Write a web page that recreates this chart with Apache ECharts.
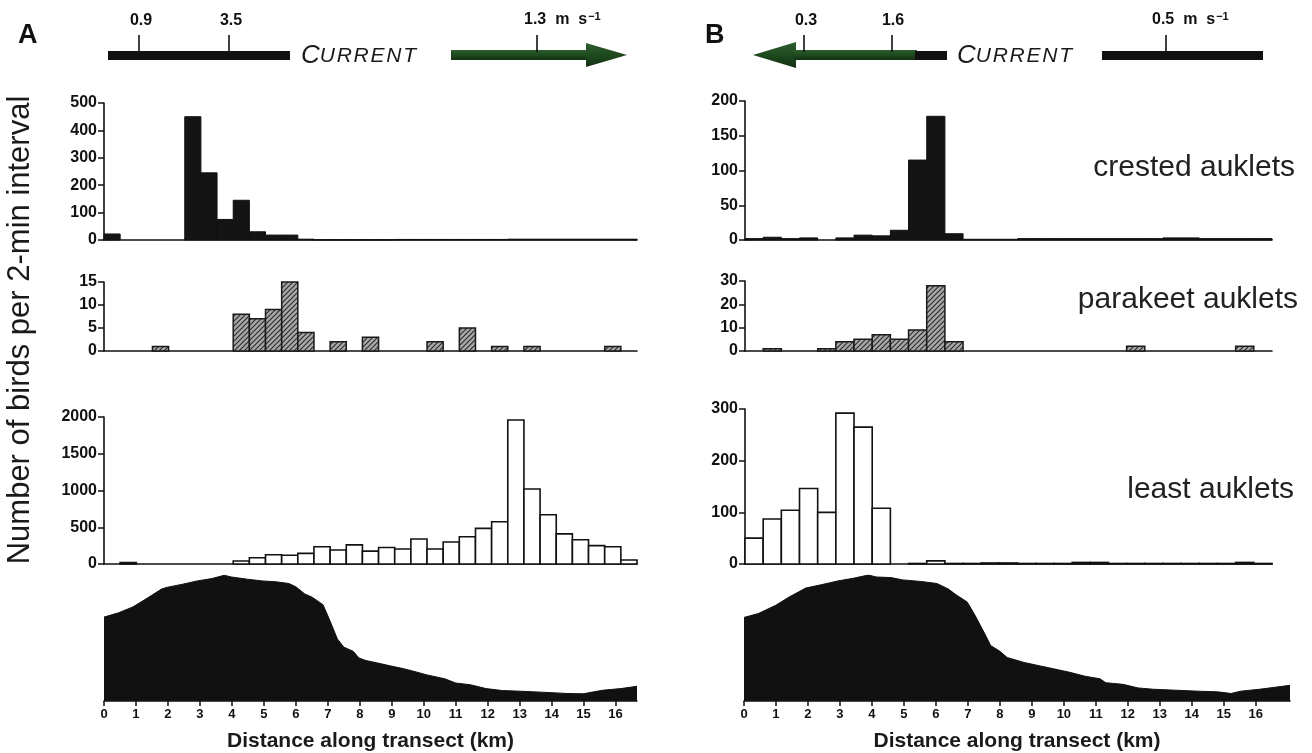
<!DOCTYPE html>
<html><head><meta charset="utf-8">
<script src="https://cdn.jsdelivr.net/npm/echarts@6/dist/echarts.min.js"></script>
<style>html,body{margin:0;padding:0;background:#fff}#c{width:1312px;height:753px}</style>
</head><body><div id="c"></div>
<script>
// ---- data ----
const binWidthA = 0.505;   // km covered by one 2-min interval, transect A
const binWidthB = 0.568;   // km covered by one 2-min interval, transect B
const crestedA = [22,0,0,0,0,450,245,75,145,30,18,18,3,1,1,1,1,1,2,2,2,2,2,2,2,3,3,3,3,3,3,3,3];
const parakeetA = [0,0,0,1,0,0,0,0,8,7,9,15,4,0,2,0,3,0,0,0,2,0,5,0,1,0,1,0,0,0,0,1,0];
const leastA = [0,20,0,0,0,0,0,0,40,85,125,120,145,235,190,260,175,225,205,340,205,300,370,485,575,1960,1020,670,410,330,250,235,55];
const crestedB = [2,4,2,3,0,3,7,6,14,115,178,9,1,1,1,2,2,2,2,2,2,2,2,3,3,2,2,2,2];
const parakeetB = [0,1,0,0,1,4,5,7,5,9,28,4,0,0,0,0,0,0,0,0,0,2,0,0,0,0,0,2,0];
const leastB = [50,87,104,146,100,292,265,108,0,1,6,1,1,2,2,1,1,1,3,3,1,1,1,1,1,1,1,3,1];
const bathyKmA = [0,0.45,0.9,1.35,1.8,1.96,2.47,2.92,3.37,3.76,3.98,4.49,4.94,5.39,5.78,6.0,6.28,6.51,6.85,7.07,7.3,7.5,7.8,7.97,8.19,8.53,8.98,9.32,9.65,10.1,10.66,11.0,11.45,11.95,12.46,13.02,13.69,14.48,14.98,15.15,15.6,16.16,16.67];
const bathyA = [257,270,288,315,343,348,358,368,375,385,380,373,368,365,360,350,328,318,295,245,190,165,152,132,124,117,107,100,92,80,68,55,50,38,32,30,27,23,22,25,33,38,45];
const bathyKmB = [0,0.45,0.99,1.4,1.93,2.41,2.94,3.42,3.89,4.13,4.6,4.96,5.55,6.03,6.39,6.62,6.98,7.22,7.57,7.71,7.99,8.23,8.76,9.23,9.71,10.18,10.66,11.13,11.31,11.85,12.32,12.79,13.5,14.22,14.81,15.23,15.52,16.12,17.07];
const bathyB = [256,268,293,318,346,356,368,376,386,380,378,371,366,360,343,326,303,263,198,170,153,133,118,108,98,88,76,68,56,51,40,36,33,30,28,23,30,36,48];
const kmTicks = [0,1,2,3,4,5,6,7,8,9,10,11,12,13,14,15,16];
const speciesNames = ['crested auklets','parakeet auklets','least auklets'];
const yMax = {crestedA:500, parakeetA:15, leastA:2000, crestedB:200, parakeetB:30, leastB:300};
const yStep = {crestedA:100, parakeetA:5, leastA:500, crestedB:50, parakeetB:10, leastB:100};
const currentA = {ticks:['0.9','3.5'], arrow:'1.3'};
const currentB = {ticks:['0.3','1.6'], bar:'0.5'};
const currentWord = 'CURRENT';
const yTitle = 'Number of birds per 2-min interval';
const xTitle = 'Distance along transect (km)';

// ---- styles ----
const INK = '#111';
const FONT = "'Liberation Sans', Arial, sans-serif";
const pc = document.createElement('canvas'); pc.width = 5; pc.height = 5;
const g2 = pc.getContext('2d');
g2.fillStyle = '#a8a8a8'; g2.fillRect(0,0,5,5);
g2.strokeStyle = '#2a2a2a'; g2.lineWidth = 1.1;
g2.beginPath(); g2.moveTo(0,5); g2.lineTo(5,0); g2.moveTo(-1,1); g2.lineTo(1,-1); g2.moveTo(4,6); g2.lineTo(6,4); g2.stroke();
const hatch = {image: pc, repeat: 'repeat'};
const styles = {
  crested: {fill:'#141414', stroke:'#111', lineWidth:1},
  parakeet: {fill:hatch, stroke:'#1a1a1a', lineWidth:1.5},
  least: {fill:'#fff', stroke:'#111', lineWidth:1.6}
};

const grids = [
  {left:104, top:103, width:533, height:137},
  {left:104, top:282, width:533, height:69},
  {left:104, top:417, width:533, height:147},
  {left:104, top:575, width:533, height:130},
  {left:745, top:101, width:527, height:139},
  {left:745, top:281, width:527, height:70},
  {left:745, top:409, width:527, height:155},
  {left:744, top:575, width:546, height:130}
];

function barX(max){
  return {type:'value', min:0, max:max, axisLine:{show:true, onZero:false, lineStyle:{color:INK, width:1.6}},
    axisTick:{show:false}, axisLabel:{show:false}, splitLine:{show:false}};
}
function bathyX(max){
  return {type:'value', min:0, max:max, interval:1,
    axisLine:{show:true, lineStyle:{color:INK, width:1.5}},
    axisTick:{show:true, length:5, customValues:kmTicks, lineStyle:{color:INK, width:1.5}},
    axisLabel:{show:true, customValues:kmTicks, fontSize:13, fontWeight:'bold', color:INK, margin:7, fontFamily:FONT},
    splitLine:{show:false},
    name:xTitle, nameLocation:'middle', nameGap:30,
    nameTextStyle:{fontSize:21, fontWeight:'bold', color:'#1a1a1a', fontFamily:FONT}};
}
function barY(max, step){
  return {type:'value', min:0, max:max, interval:step,
    axisLine:{show:true, lineStyle:{color:INK, width:1.6}},
    axisTick:{show:true, length:6, lineStyle:{color:INK, width:1.5}},
    axisLabel:{fontSize:16, fontWeight:'bold', color:INK, margin:7, fontFamily:FONT, formatter:v=>String(v)},
    splitLine:{show:false}};
}
function bathyY(){ return {type:'value', min:0, max:386, show:false}; }

function barSeries(vals, w, idx, style){
  return {type:'custom', xAxisIndex:idx, yAxisIndex:idx, silent:true,
    data: vals.map((v,i)=>[i*w,(i+1)*w,v]).filter(d=>d[2]>0),
    encode:{x:[0,1], y:2},
    renderItem:function(params, api){
      const a = api.coord([api.value(0), 0]);
      const b = api.coord([api.value(1), api.value(2)]);
      return {type:'rect', shape:{x:a[0], y:b[1], width:b[0]-a[0], height:a[1]-b[1]}, style:style};
    }};
}
function bathySeries(km, h, idx){
  return {type:'line', xAxisIndex:idx, yAxisIndex:idx, silent:true, showSymbol:false, symbol:'none',
    data: km.map((k,i)=>[k,h[i]]), lineStyle:{color:INK, width:1}, areaStyle:{color:INK, opacity:1}};
}

const maxA = crestedA.length*binWidthA, maxB = crestedB.length*binWidthB;

// ---- decorations (current diagrams, panel letters, labels) ----
const txt = (x,y,text,o) => Object.assign({type:'text', x:x, y:y, silent:true,
  style:Object.assign({text:text, fill:INK, fontFamily:FONT}, o||{})});
const rect = (x,y,w,h,fill) => ({type:'rect', silent:true, shape:{x:x,y:y,width:w,height:h}, style:{fill:fill}});
const vline = (x,y1,y2) => ({type:'line', silent:true, shape:{x1:x,y1:y1,x2:x,y2:y2}, style:{stroke:INK, lineWidth:1.6}});
const green = {type:'linear', x:0, y:0, x2:0, y2:1, colorStops:[{offset:0,color:'#2f5e2f'},{offset:0.5,color:'#1e4a1e'},{offset:1,color:'#132f13'}]};
const spaced = s => s.split('').join('\u200A');
const curTxt = (x,y) => txt(x,y,'{c|'+currentWord[0]+'}{u|'+spaced(currentWord.slice(1))+'}', {rich:{c:{fontSize:26, fontStyle:'italic', fontFamily:FONT, fill:'#1a1a1a'}, u:{fontSize:21, fontStyle:'italic', fontFamily:FONT, fill:'#1a1a1a'}}, verticalAlign:'bottom'});
const unitTxt = (x,y,v) => txt(x,y,'{n|'+v+'  m  s}{s|−1}', {rich:{n:{fontSize:16, fontWeight:'bold', fontFamily:FONT, fill:INK}, s:{fontSize:11, fontWeight:'bold', fontFamily:FONT, fill:INK, verticalAlign:'top', padding:[0,0,7,1]}}, verticalAlign:'bottom'});
const tickLbl = (x,t) => txt(x,29,t,{fontSize:16, fontWeight:'bold', align:'center', verticalAlign:'bottom'});
const graphics = [
  txt(18,22,'A',{fontSize:27, fontWeight:'bold'}),
  txt(705,22,'B',{fontSize:27, fontWeight:'bold'}),
  // A current
  rect(108,51,182,9,'#111'),
  vline(139,35,52), vline(229,35,52),
  tickLbl(141,currentA.ticks[0]), tickLbl(231,currentA.ticks[1]),
  curTxt(301,69),
  rect(451,50,139,10,green),
  {type:'polygon', silent:true, shape:{points:[[586,43],[627,55],[586,67]]}, style:{fill:green}},
  vline(537,35,52),
  unitTxt(524,29,currentA.arrow),
  // B current
  {type:'polygon', silent:true, shape:{points:[[753,55],[796,42],[796,68]]}, style:{fill:green}},
  rect(794,50,123,10,green),
  rect(915,51,32,9,'#111'),
  vline(804,35,52), vline(892,35,52),
  tickLbl(806,currentB.ticks[0]), tickLbl(893,currentB.ticks[1]),
  curTxt(957,69),
  rect(1102,51,161,9,'#111'),
  vline(1166,35,52),
  unitTxt(1152,29,currentB.bar),
  // species labels
  txt(1295,168,speciesNames[0],{fontSize:30, align:'right', verticalAlign:'middle', fill:'#222'}),
  txt(1298,300,speciesNames[1],{fontSize:30, align:'right', verticalAlign:'middle', fill:'#222'}),
  txt(1294,490,speciesNames[2],{fontSize:30, align:'right', verticalAlign:'middle', fill:'#222'}),
  // y title
  {type:'text', silent:true, x:20, y:330, rotation:Math.PI/2,
   style:{text:yTitle, fontSize:31, fontFamily:FONT, fill:'#1a1a1a', align:'center', verticalAlign:'middle'}}
];

const chart = echarts.init(document.getElementById('c'), null, {renderer:'canvas'});
chart.setOption({
  animation:false,
  backgroundColor:'#fff',
  grid: grids,
  xAxis: [barX(maxA), barX(maxA), barX(maxA), bathyX(16.67), barX(maxB), barX(maxB), barX(maxB), bathyX(17.07)]
    .map((a,i)=>Object.assign(a,{gridIndex:i})),
  yAxis: [barY(yMax.crestedA,yStep.crestedA), barY(yMax.parakeetA,yStep.parakeetA), barY(yMax.leastA,yStep.leastA), bathyY(),
          barY(yMax.crestedB,yStep.crestedB), barY(yMax.parakeetB,yStep.parakeetB), barY(yMax.leastB,yStep.leastB), bathyY()]
    .map((a,i)=>Object.assign(a,{gridIndex:i})),
  series: [
    barSeries(crestedA, binWidthA, 0, styles.crested),
    barSeries(parakeetA, binWidthA, 1, styles.parakeet),
    barSeries(leastA, binWidthA, 2, styles.least),
    bathySeries(bathyKmA, bathyA, 3),
    barSeries(crestedB, binWidthB, 4, styles.crested),
    barSeries(parakeetB, binWidthB, 5, styles.parakeet),
    barSeries(leastB, binWidthB, 6, styles.least),
    bathySeries(bathyKmB, bathyB, 7)
  ],
  graphic: graphics
});
</script></body></html>
